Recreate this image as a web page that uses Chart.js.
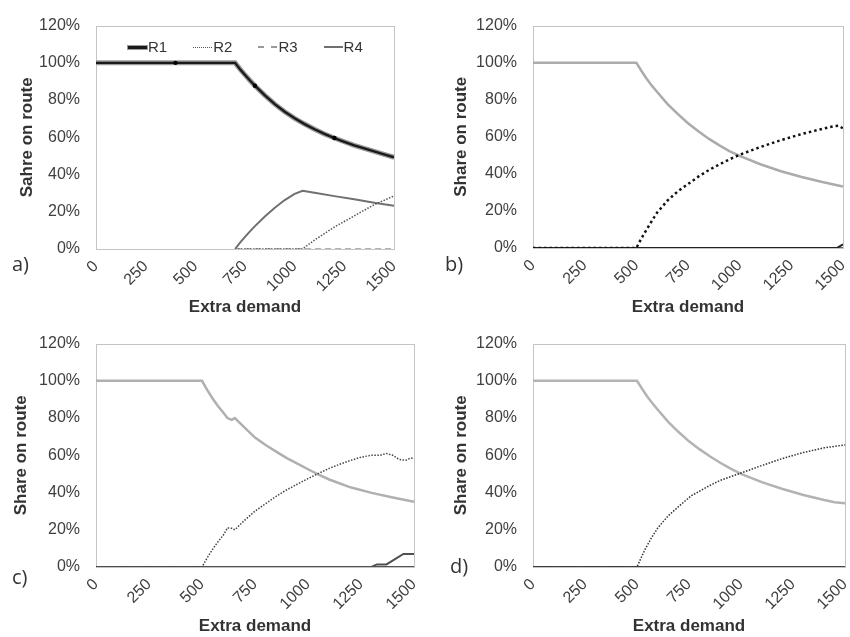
<!DOCTYPE html>
<html>
<head>
<meta charset="utf-8">
<script src="https://cdn.jsdelivr.net/npm/chart.js@4.4.0/dist/chart.umd.min.js"></script>
<style>
  body { margin: 0; background: #fff; }
  #page { position: relative; width: 850px; height: 637px; overflow: hidden; font-family: "Liberation Sans", Arial, sans-serif; }
  canvas { position: absolute; }
  .tag { position: absolute; font-family: "Open Sans", sans-serif; font-size: 20px; line-height: 20px; color: #333; }
  #legendA { position: absolute; left: 128px; top: 38px; display: flex; align-items: center; font-size: 15px; line-height: 18px; color: #333; }
  #legendA .item { display: flex; align-items: center; margin-right: 26px; }
  #legendA .sym { width: 19px; height: 0; margin-right: 1px; }
</style>
</head>
<body>
<div id="page">
  <canvas id="chartA" width="425" height="318" style="left:0;top:0"></canvas>
  <canvas id="chartB" width="425" height="318" style="left:425px;top:0"></canvas>
  <canvas id="chartC" width="425" height="319" style="left:0;top:318px"></canvas>
  <canvas id="chartD" width="425" height="319" style="left:425px;top:318px"></canvas>
  <div class="tag" style="left:12px;top:254px">a)</div>
  <div class="tag" style="left:445px;top:254px">b)</div>
  <div class="tag" style="left:12px;top:567px">c)</div>
  <div class="tag" style="left:450px;top:556px">d)</div>
  <div id="legendA"></div>
</div>
<script>
// route names (legend only shown in panel a)
const routes = ['R1', 'R2', 'R3', 'R4'];

// axis ticks
const demandTicks = [0, 250, 500, 750, 1000, 1250, 1500];
const shareTicks = [0, 20, 40, 60, 80, 100, 120];

// ---- panel a) ----
const aR1x = [0, 400, 700, 725, 750, 775, 800, 850, 900, 950, 1000, 1050, 1100, 1150, 1200, 1250, 1300, 1350, 1400, 1450, 1500];
const aR1y = [100, 100, 100, 96.6, 93.5, 90.5, 87.7, 82.5, 77.8, 73.7, 70.2, 67.1, 64.3, 61.8, 59.6, 57.6, 55.7, 54, 52.4, 50.8, 49.3];
const aR1marks = [400, 800, 1200];
const aR2x = [700, 1040, 1070, 1100, 1200, 1300, 1400, 1500];
const aR2y = [0, 0, 2.5, 4.8, 11.8, 17.8, 23.8, 28.5];
const aR3x = [700, 1500];
const aR3y = [0, 0];
const aR4x = [700, 725, 750, 775, 800, 850, 900, 950, 1000, 1040, 1100, 1200, 1300, 1400, 1500];
const aR4y = [0, 3.4, 6.5, 9.5, 12.3, 17.5, 22.2, 26.3, 29.6, 31.3, 30.2, 28.4, 26.7, 24.9, 23.2];

// ---- panel b) ----
const bR1x = [0, 500, 525, 550, 575, 600, 650, 700, 750, 800, 850, 900, 950, 1000, 1100, 1200, 1300, 1400, 1500];
const bR1y = [100, 100, 95.5, 91.3, 87.6, 84.3, 77.8, 72.4, 67.3, 63, 59, 55.5, 52.3, 49.7, 45.2, 41.4, 38.3, 35.6, 33.2];
const bR2x = [0, 500, 525, 550, 575, 600, 650, 700, 750, 800, 850, 900, 950, 1000, 1100, 1200, 1300, 1400, 1450, 1480, 1500];
const bR2y = [0, 0, 5.3, 10, 14.6, 19, 25.5, 30.5, 34.5, 38.5, 42, 45, 47.8, 50.3, 54.5, 58.2, 61.5, 64.3, 65.6, 66, 64.5];
const bR3x = [0, 1500];
const bR3y = [0, 0];
const bR4x = [0, 1470, 1500];
const bR4y = [0, 0, 2];

// ---- panel c) ----
const cR1x = [0, 500, 525, 550, 575, 600, 620, 640, 655, 700, 750, 800, 850, 900, 950, 1000, 1050, 1100, 1200, 1300, 1400, 1500];
const cR1y = [100, 100, 95, 90.5, 86.5, 83, 80, 79, 80, 75, 69.5, 65.5, 62, 58.5, 55.5, 52.5, 49.6, 47, 42.8, 39.8, 37.3, 35];
const cR2x = [0, 500, 525, 550, 575, 600, 620, 640, 655, 700, 750, 800, 850, 900, 950, 1000, 1050, 1100, 1150, 1200, 1250, 1300, 1340, 1370, 1400, 1430, 1460, 1480, 1500];
const cR2y = [0, 0, 5, 9.5, 13.5, 17, 21, 20.8, 20, 25, 30, 34, 38, 41.5, 44.5, 47.5, 50.3, 53, 55.2, 57.2, 59, 60, 60, 61, 60, 57.8, 57.3, 58.3, 58.7];
const cR3x = [0, 1500];
const cR3y = [0, 0];
const cR4x = [0, 1300, 1325, 1370, 1450, 1500];
const cR4y = [0, 0, 1.4, 1.4, 7, 7];

// ---- panel d) ----
const dR1x = [0, 500, 525, 550, 575, 600, 650, 700, 750, 800, 850, 900, 950, 1000, 1100, 1200, 1300, 1400, 1450, 1500];
const dR1y = [100, 100, 95.6, 91.5, 87.8, 84.5, 78, 72.5, 67.5, 63.3, 59.5, 56, 52.8, 50, 45.6, 41.9, 38.7, 36, 34.8, 34.3];
const dR2x = [0, 500, 520, 540, 570, 600, 650, 700, 760, 800, 850, 900, 1000, 1100, 1200, 1300, 1400, 1500];
const dR2y = [0, 0, 5, 9.7, 15.8, 21, 27.5, 32.5, 38.2, 40.7, 43.8, 46.5, 50.5, 54.5, 58.3, 61.5, 64, 65.6];
const dR3x = [0, 1500];
const dR3y = [0, 0];
const dR4x = [0, 1500];
const dR4y = [0, 0];

Chart.defaults.font.family = '"Liberation Sans", Arial, sans-serif';

const tickFont = { size: 16 };
const titleFont = { size: 17, weight: 'bold' };

// light grey box round the plot area
const frame = {
  id: 'frame',
  beforeDatasetsDraw(chart) {
    const { ctx, chartArea: a } = chart;
    ctx.save();
    ctx.strokeStyle = '#c4c4c4';
    ctx.lineWidth = 1;
    ctx.strokeRect(Math.round(a.left) + 0.5, Math.round(a.top) + 0.5, Math.round(a.width), Math.round(a.height));
    ctx.restore();
  }
};

function series(label, xs, ys, style) {
  return Object.assign({
    label: label,
    data: xs.map((x, i) => ({ x: x, y: ys[i] })),
    pointRadius: 0,
    fill: false,
    tension: 0
  }, style);
}

function panel(id, datasets, box) {
  return new Chart(document.getElementById(id), {
    type: 'line',
    data: { datasets: datasets },
    options: {
      responsive: false,
      animation: false,
      events: [],
      layout: { padding: { top: box.top, right: box.right, left: 0, bottom: 0 } },
      plugins: { legend: { display: false }, tooltip: { enabled: false } },
      scales: {
        x: {
          type: 'linear', min: 0, max: 1500,
          afterBuildTicks: s => { s.ticks = demandTicks.map(v => ({ value: v })); },
          afterFit: s => { s.height = box.xh; s.paddingLeft = 0; s.paddingRight = 0; },
          grid: { display: false, drawTicks: false },
          border: { display: false },
          ticks: { autoSkip: false, minRotation: 45, maxRotation: 45, padding: 8, font: tickFont, color: '#404040', callback: v => String(v) },
          title: { display: true, text: 'Extra demand', font: titleFont, color: '#333', padding: 0 }
        },
        y: {
          min: 0, max: 120,
          afterBuildTicks: s => { s.ticks = shareTicks.map(v => ({ value: v })); },
          afterFit: s => { s.width = box.yw; },
          grid: { display: false, drawTicks: false },
          border: { display: false },
          ticks: { padding: 16, font: tickFont, color: '#404040', callback: v => v + '%' },
          title: { display: true, text: box.ytitle, font: titleFont, color: '#333', padding: { top: box.tp, bottom: 0 } }
        }
      }
    },
    plugins: [frame]
  });
}

// a) - the only panel with a legend
const chartA = panel('chartA', [
  series(routes[0], aR1x, aR1y, {
    borderColor: '#1a1a1a', borderWidth: 2.4, order: 0,
    pointRadius: c => aR1marks.includes(c.raw.x) ? 2.2 : 0,
    pointBackgroundColor: '#000', pointBorderWidth: 0
  }),
  series(routes[0] + ' edge', aR1x, aR1y, { borderColor: '#9a9a9a', borderWidth: 5, order: 1 }),
  series(routes[1], aR2x, aR2y, { borderColor: '#555', borderWidth: 1.5, borderDash: [1.5, 1.5], order: 2 }),
  series(routes[2], aR3x, aR3y, { borderColor: '#999', borderWidth: 1.5, borderDash: [6, 4], order: 3 }),
  series(routes[3], aR4x, aR4y, { borderColor: '#707070', borderWidth: 2, order: 4 })
], { top: 25, right: 31, xh: 69, yw: 96, tp: 17, ytitle: 'Sahre on route' });

panel('chartB', [
  series(routes[0], bR1x, bR1y, { borderColor: '#ababab', borderWidth: 2.5, order: 3 }),
  series(routes[1], bR2x, bR2y, { borderColor: '#111', borderWidth: 2.5, borderDash: [2.5, 3], order: 0 }),
  series(routes[2], bR3x, bR3y, { borderColor: '#333', borderWidth: 1.5, order: 2 }),
  series(routes[3], bR4x, bR4y, { borderColor: '#222', borderWidth: 2, order: 1 })
], { top: 25, right: 7, xh: 70, yw: 108, tp: 26, ytitle: 'Share on route' });

panel('chartC', [
  series(routes[0], cR1x, cR1y, { borderColor: '#b0b0b0', borderWidth: 2.5, order: 3 }),
  series(routes[1], cR2x, cR2y, { borderColor: '#444', borderWidth: 1.5, borderDash: [1.5, 1.5], order: 0 }),
  series(routes[2], cR3x, cR3y, { borderColor: '#555', borderWidth: 2, order: 2 }),
  series(routes[3], cR4x, cR4y, { borderColor: '#505050', borderWidth: 2, order: 1 })
], { top: 19, right: 11, xh: 70, yw: 96, tp: 11, ytitle: 'Share on route' });

panel('chartD', [
  series(routes[0], dR1x, dR1y, { borderColor: '#b3b3b3', borderWidth: 2.5, order: 3 }),
  series(routes[1], dR2x, dR2y, { borderColor: '#333', borderWidth: 1.5, borderDash: [1.5, 1.5], order: 0 }),
  series(routes[2], dR3x, dR3y, { borderColor: '#444', borderWidth: 2, order: 2 }),
  series(routes[3], dR4x, dR4y, { borderColor: '#444', borderWidth: 2, order: 1 })
], { top: 19, right: 5, xh: 70, yw: 108, tp: 26, ytitle: 'Share on route' });

// html legend for panel a, built from its datasets
const legendA = document.getElementById('legendA');
chartA.data.datasets.filter(d => routes.includes(d.label)).forEach(d => {
  const item = document.createElement('div');
  item.className = 'item';
  const sym = document.createElement('span');
  sym.className = 'sym';
  if (d.label === 'R1') {
    sym.style.height = '3px';
    sym.style.background = d.borderColor;
    sym.style.boxShadow = '0 0 0 1px #9a9a9a';
  } else {
    const style = !d.borderDash ? 'solid' : (d.borderDash[0] > 3 ? 'dashed' : 'dotted');
    sym.style.borderTop = (style === 'dotted' ? 1.5 : 2) + 'px ' + style + ' ' + d.borderColor;
  }
  const txt = document.createElement('span');
  txt.textContent = d.label;
  item.appendChild(sym);
  item.appendChild(txt);
  legendA.appendChild(item);
});
</script>
</body>
</html>
